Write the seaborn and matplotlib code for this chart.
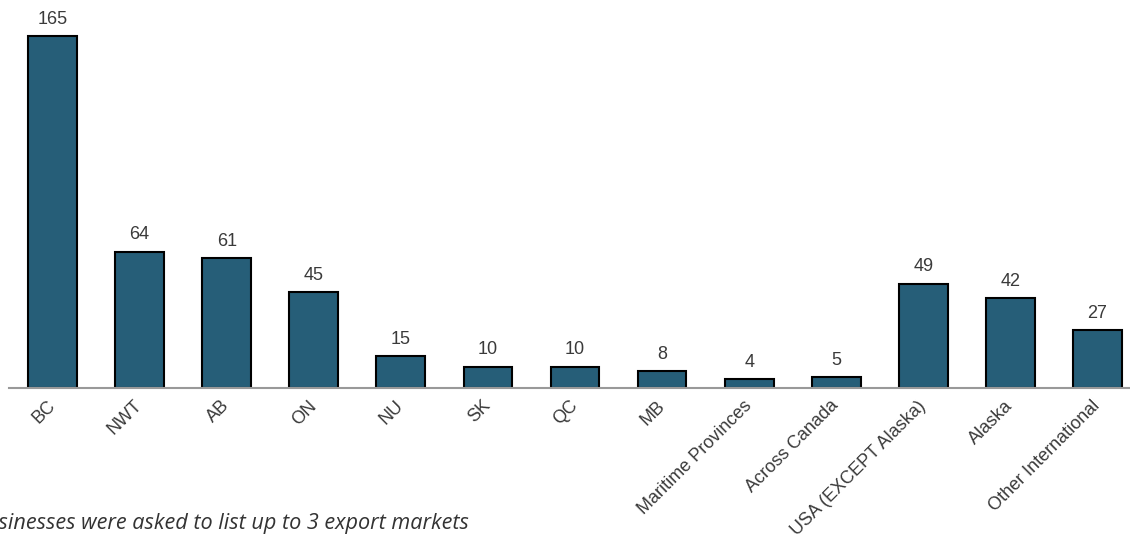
import matplotlib
matplotlib.use("Agg")
import matplotlib.pyplot as plt
import seaborn as sns
import pandas as pd

# export markets and number of businesses naming each
markets = ["BC", "NWT", "AB", "ON", "NU", "SK", "QC", "MB",
           "Maritime Provinces", "Across Canada", "USA (EXCEPT Alaska)",
           "Alaska", "Other International"]
counts = [165, 64, 61, 45, 15, 10, 10, 8, 4, 5, 49, 42, 27]
footnote = "Businesses were asked to list up to 3 export markets"

df = pd.DataFrame({"market": markets, "count": counts})

sns.set_theme(style="white")
plt.rcParams["font.family"] = ["Liberation Sans", "DejaVu Sans"]

W, H = 1130, 536
fig = plt.figure(figsize=(W / 100, H / 100), dpi=100)
# axes runs past the right edge like the original crop
ax = fig.add_axes([9 / W, (H - 388) / H, 1132 / W, 388 / H])

sns.barplot(data=df, x="market", y="count", color="#265E78", saturation=1,
            width=0.56, edgecolor="black", linewidth=1.5, ax=ax)

ax.bar_label(ax.containers[0], padding=6, fontsize=13, color="#3a3a3a")

ax.set_xlim(-0.5, 12.5)
ax.set_ylim(0, 182)
ax.set_xlabel("")
ax.set_ylabel("")
ax.set_yticks([])
for s in ["top", "right", "left"]:
    ax.spines[s].set_visible(False)
ax.spines["bottom"].set_color("#999999")
ax.spines["bottom"].set_linewidth(1.5)

ax.tick_params(axis="x", length=0, pad=11)
plt.setp(ax.get_xticklabels(), rotation=45, ha="right", va="center",
         rotation_mode="anchor", fontsize=13, color="#3a3a3a")

fig.text(-27 / W, 1 - 524 / H, footnote, fontsize=15.6, style="italic",
         color="#333333", va="center", ha="left",
         family=["Open Sans", "DejaVu Sans"])

fig.savefig("out.png", dpi=100)
